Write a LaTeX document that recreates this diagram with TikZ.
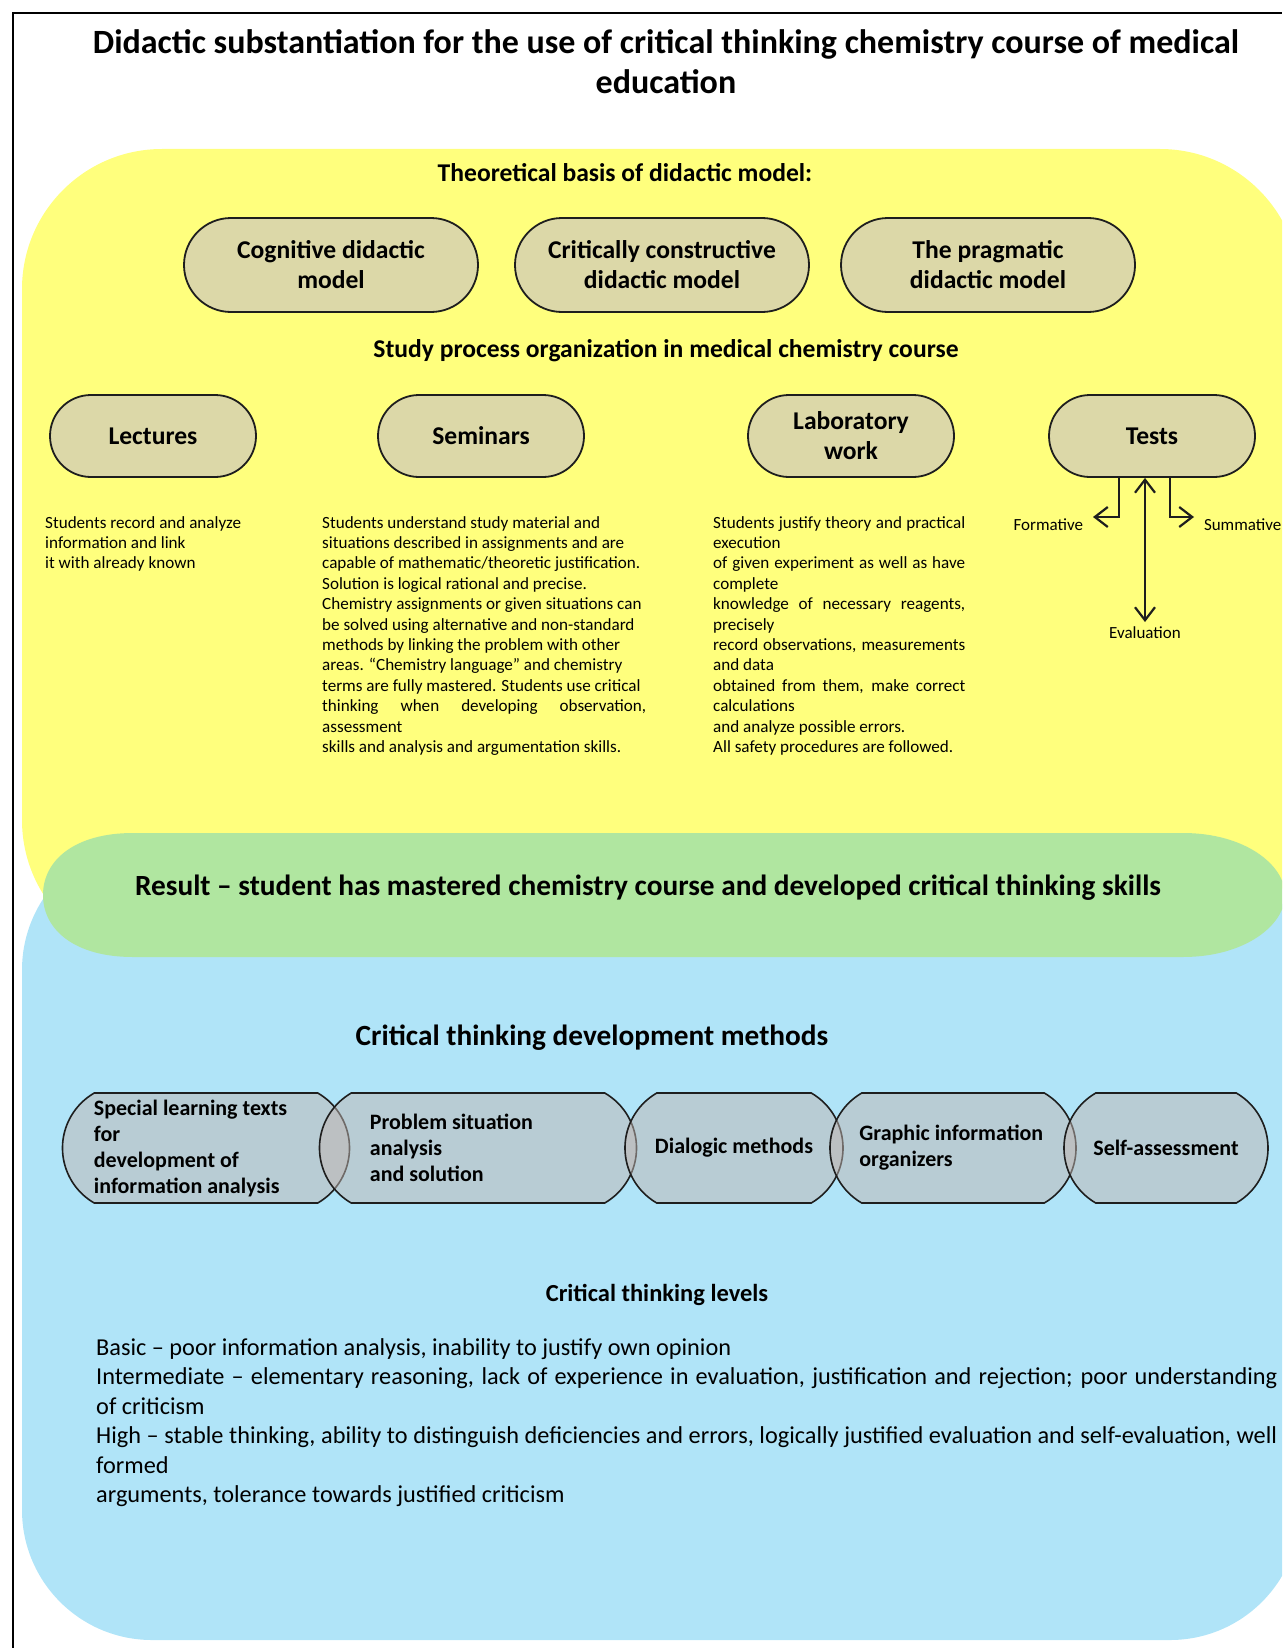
\documentclass[tikz,border=0pt]{standalone}
\usepackage{fontspec}
\setmainfont{Carlito}
\usetikzlibrary{shapes.misc,arrows.meta,positioning}
\definecolor{fondJaune}{RGB}{255,255,125}
\definecolor{fondVert}{RGB}{176,230,160}
\definecolor{fondBleu}{RGB}{176,228,248}
\definecolor{ovalBeige}{RGB}{220,216,168}
\definecolor{pilGris}{RGB}{192,182,178}
\definecolor{traitNoir}{RGB}{30,30,30}

\begin{document}
\begin{tikzpicture}[
  x=1pt, y=-1pt, >={Straight Barb[length=13pt,width=20pt]},
  titre/.style={font=\fontsize{25.6}{30}\selectfont\bfseries},
  oval/.style={rounded rectangle, draw=traitNoir, line width=1.8pt, fill=ovalBeige,
               align=center, inner sep=0pt, font=\fontsize{25.6}{30}\selectfont\bfseries},
  methode/.style={rounded rectangle, rounded rectangle arc length=120, draw=traitNoir,
                  line width=1.6pt, fill=pilGris, fill opacity=0.5, text opacity=1,
                  minimum height=110pt, inner sep=0pt, align=left,
                  font=\fontsize{22}{26}\selectfont\bfseries},
  methtxt/.style={anchor=west, inner sep=0pt, align=left, font=\fontsize{22}{26}\selectfont\bfseries},
  corps/.style={anchor=north west, inner sep=0pt, align=left, font=\fontsize{17.1}{20.4}\selectfont},
  etiq/.style={inner sep=0pt, outer xsep=10pt, outer ysep=5pt, font=\fontsize{17}{20}\selectfont},
  fleche/.style={line width=2.2pt, draw=traitNoir}
]
\clip (0,0) rectangle (1282,1648);

% fonds : jaune, bleu, puis la bande verte du resultat
\fill[fondJaune, rounded corners=140pt] (22,149) rectangle (1300,960);
\fill[fondBleu, rounded corners=130pt] (22,840) rectangle (1300,1640);
\fill[fondVert] (133,833) -- (1183,833)
  .. controls (1245,833) and (1285,865) .. (1285,895)
  .. controls (1285,925) and (1245,957) .. (1183,957) -- (133,957)
  .. controls (75,957) and (43,930) .. (43,895)
  .. controls (43,860) and (75,833) .. (133,833) -- cycle;
\draw[line width=1.2pt] (13,1648) -- (13,13) -- (1282,13);

\node[font=\fontsize{34}{40}\selectfont\bfseries, align=center] (titre) at (666,62)
  {Didactic substantiation for the use of critical thinking chemistry course of medical\\education};

% base theorique
\node[titre] (theorie) at (625,173) {Theoretical basis of didactic model:};
\node[oval, minimum width=294pt, minimum height=94pt] (cognitif) at (331,265) {Cognitive didactic\\model};
\node[oval, minimum width=294pt, minimum height=94pt] (critique) at (662,265) {Critically constructive\\didactic model};
\node[oval, minimum width=294pt, minimum height=94pt] (pragma) at (988,265) {The pragmatic\\didactic model};

% organisation du processus d'etude
\node[titre] (etude) at (666,351) {Study process organization in medical chemistry course};
\node[oval, minimum width=206pt, minimum height=82pt] (cours) at (153,436) {Lectures};
\node[oval, minimum width=206pt, minimum height=82pt] (semin) at (481,436) {Seminars};
\node[oval, minimum width=206pt, minimum height=82pt] (labo) at (851,436) {Laboratory\\work};
\node[oval, minimum width=206pt, minimum height=82pt] (tests) at (1152,436) {Tests};

\node[corps] (coursTxt) at (45,516) {Students record and analyze\\information and link\\it with already known};
\node[corps] (seminTxt) at (322,516) {Students understand study material and\\
situations described in assignments and are\\
capable of mathematic/theoretic justification.\\
Solution is logical rational and precise.\\
Chemistry assignments or given situations can\\
be solved using alternative and non-standard\\
methods by linking the problem with other\\
areas. “Chemistry language” and chemistry\\
terms are fully mastered. Students use critical\\
\makebox[324pt][s]{thinking when developing observation,}\\
assessment\\
skills and analysis and argumentation skills.};
\node[corps] (laboTxt) at (713,516) {\makebox[252pt][s]{Students justify theory and practical}\\
execution\\
\makebox[252pt][s]{of given experiment as well as have}\\
complete\\
\makebox[252pt][s]{knowledge of necessary reagents,}\\
precisely\\
\makebox[252pt][s]{record observations, measurements}\\
and data\\
\makebox[252pt][s]{obtained from them, make correct}\\
calculations\\
and analyze possible errors.\\
All safety procedures are followed.};

\node[etiq, anchor=east] (form) at (1093,525) {Formative};
\node[etiq, anchor=west] (summ) at (1194,525) {Summative};
\node[etiq, anchor=north] (eval) at (1145,622) {Evaluation};
\draw[fleche, ->] ([xshift=-33pt]tests.south) |- ([yshift=8pt]form.east);
\draw[fleche, ->] ([xshift=18pt]tests.south) |- ([yshift=8pt]summ.west);
\draw[fleche, <->] (eval.north |- tests.south) -- (eval.north);

% resultat
\node[font=\fontsize{29.3}{34}\selectfont\bfseries] (result) at (648,888)
  {Result – student has mastered chemistry course and developed critical thinking skills};

% methodes
\node[font=\fontsize{29.3}{34}\selectfont\bfseries] (methodes) at (592,1038) {Critical thinking development methods};
\node[methode, minimum width=287pt] (m1) at (206,1148) {};
\node[methode, minimum width=317pt] (m2) at (478,1148) {};
\node[methode, minimum width=218pt] (m3) at (734,1148) {Dialogic methods};
\node[methode, minimum width=246pt] (m4) at (953,1148) {};
\node[methode, minimum width=204pt] (m5) at (1166,1148) {Self-assessment};
\node[methtxt] (m1Txt) at ([xshift=32pt]m1.west) {Special learning texts\\for\\development of\\information analysis};
\node[methtxt] (m2Txt) at ([xshift=51pt]m2.west) {Problem situation\\analysis\\and solution};
\node[methtxt] (m4Txt) at ([xshift=30pt]m4.west) {Graphic information\\organizers};

% niveaux
\node[font=\fontsize{24.5}{28}\selectfont\bfseries] (niveaux) at (657,1295) {Critical thinking levels};
\node[anchor=north west, inner sep=0pt, align=left, font=\fontsize{24.3}{29.5}\selectfont] (niveauxTxt) at (96,1338)
  {Basic – poor information analysis, inability to justify own opinion\\
\makebox[1181pt][s]{Intermediate – elementary reasoning, lack of experience in evaluation, justification and rejection; poor understanding}\\
of criticism\\
\makebox[1181pt][s]{High – stable thinking, ability to distinguish deficiencies and errors, logically justified evaluation and self-evaluation, well}\\
formed\\
arguments, tolerance towards justified criticism};
\end{tikzpicture}
\end{document}
